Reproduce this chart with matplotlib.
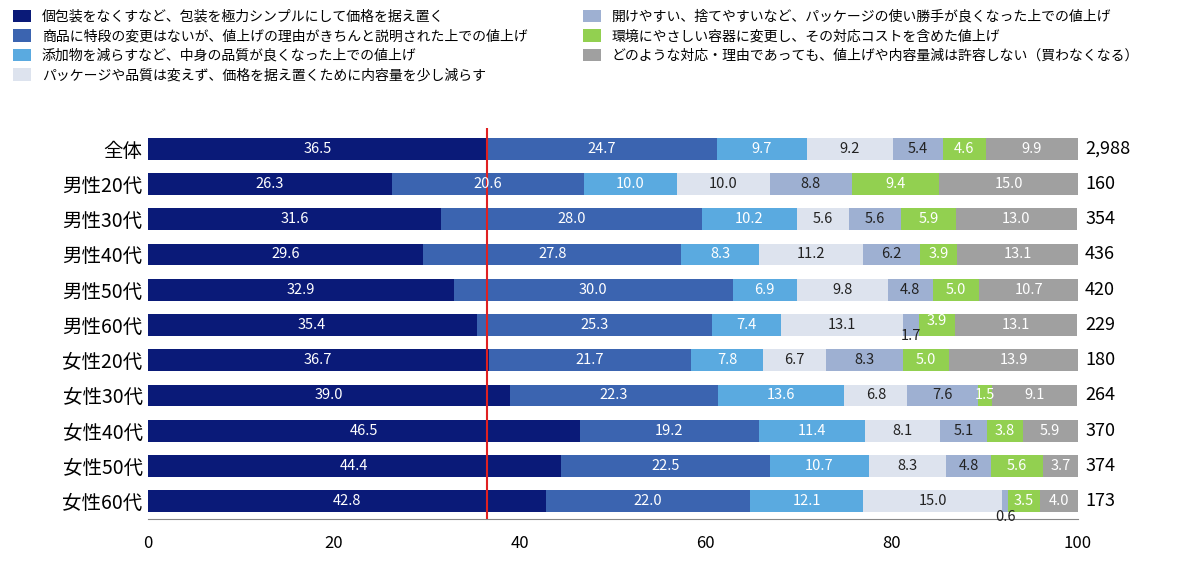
import matplotlib.pyplot as plt
import numpy as np

plt.rcParams['font.family'] = ['Noto Sans CJK JP', 'DejaVu Sans']

categories = ["全体", "男性20代", "男性30代", "男性40代", "男性50代", "男性60代",
              "女性20代", "女性30代", "女性40代", "女性50代", "女性60代"]
counts = ["2,988", "160", "354", "436", "420", "229", "180", "264", "370", "374", "173"]
series_names = [
    "個包装をなくすなど、包装を極力シンプルにして価格を据え置く",
    "商品に特段の変更はないが、値上げの理由がきちんと説明された上での値上げ",
    "添加物を減らすなど、中身の品質が良くなった上での値上げ",
    "パッケージや品質は変えず、価格を据え置くために内容量を少し減らす",
    "開けやすい、捨てやすいなど、パッケージの使い勝手が良くなった上での値上げ",
    "環境にやさしい容器に変更し、その対応コストを含めた値上げ",
    "どのような対応・理由であっても、値上げや内容量減は許容しない（買わなくなる）",
]
values = np.array([
    [36.5, 24.7, 9.7, 9.2, 5.4, 4.6, 9.9],
    [26.3, 20.6, 10.0, 10.0, 8.8, 9.4, 15.0],
    [31.6, 28.0, 10.2, 5.6, 5.6, 5.9, 13.0],
    [29.6, 27.8, 8.3, 11.2, 6.2, 3.9, 13.1],
    [32.9, 30.0, 6.9, 9.8, 4.8, 5.0, 10.7],
    [35.4, 25.3, 7.4, 13.1, 1.7, 3.9, 13.1],
    [36.7, 21.7, 7.8, 6.7, 8.3, 5.0, 13.9],
    [39.0, 22.3, 13.6, 6.8, 7.6, 1.5, 9.1],
    [46.5, 19.2, 11.4, 8.1, 5.1, 3.8, 5.9],
    [44.4, 22.5, 10.7, 8.3, 4.8, 5.6, 3.7],
    [42.8, 22.0, 12.1, 15.0, 0.6, 3.5, 4.0],
])
colors = ["#0a1a78", "#3b64b0", "#5aaae0", "#dde3ee", "#9eb0d2", "#92d050", "#a0a0a0"]
text_colors = ["white", "white", "white", "#222222", "#222222", "white", "white"]

# small labels that sit off the bar: (row, series) -> vertical offset
offsets = {(5, 4): 0.3, (5, 5): -0.1, (10, 4): 0.45}

fig = plt.figure(figsize=(12, 5.67), dpi=100)
ax = fig.add_axes([0.123, 0.085, 0.775, 0.69])
y = np.arange(len(categories))
left = np.zeros(len(categories))
handles = []
for j in range(values.shape[1]):
    h = ax.barh(y, values[:, j], left=left, color=colors[j], height=0.62)
    handles.append(h)
    for i in range(len(categories)):
        v = values[i, j]
        dy = offsets.get((i, j), 0)
        ax.text(left[i] + v / 2, y[i] + dy, f"{v:.1f}", ha="center", va="center",
                color=text_colors[j] if (i, j) not in ((5, 4), (10, 4)) else "#222222",
                fontsize=10.5)
    left += values[:, j]

for i, c in enumerate(counts):
    ax.text(100.8, y[i], c, ha="left", va="center", fontsize=13)

ax.axvline(values[0, 0], color="#e02020", lw=1.5)
ax.set_xlim(0, 100)
ax.set_ylim(len(categories) - 0.5, -0.6)
ax.set_yticks(y)
ax.set_yticklabels(categories, fontsize=14)
ax.set_xticks([0, 20, 40, 60, 80, 100])
ax.tick_params(axis="x", labelsize=12, length=0, pad=12)
ax.tick_params(axis="y", length=0)
for s in ["top", "right", "left"]:
    ax.spines[s].set_visible(False)
ax.spines["bottom"].set_color("#888888")

fig.legend(handles, series_names,
           loc="upper left", bbox_to_anchor=(0.0, 1.005), ncol=2, frameon=False,
           fontsize=10, handlelength=1.3, handleheight=1.0, columnspacing=4.0,
           labelspacing=0.4)

fig.savefig("out.png", dpi=100)
